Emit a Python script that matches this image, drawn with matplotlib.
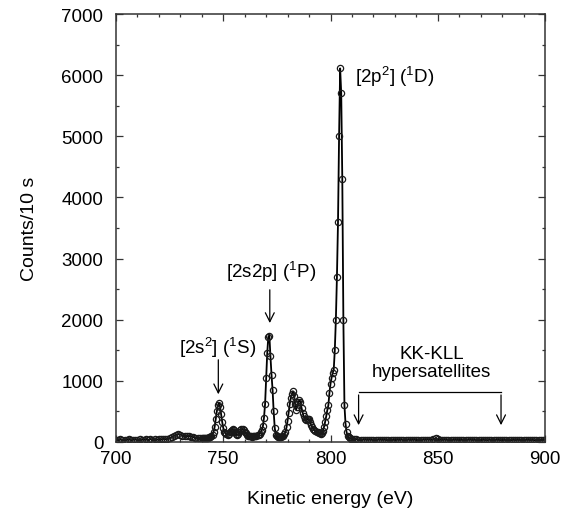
import numpy as np
import matplotlib
matplotlib.use("Agg")
import matplotlib.pyplot as plt
from matplotlib.ticker import MultipleLocator

plt.rcParams['font.family'] = ['Liberation Sans', 'DejaVu Sans']
plt.rcParams['mathtext.fontset'] = 'custom'
plt.rcParams['mathtext.rm'] = 'Liberation Sans'
plt.rcParams['mathtext.it'] = 'Liberation Sans'

# ---- data ----
energy_low = np.arange(700, 740, 1.0)
counts_low = [35, 30, 42, 28, 38, 33, 45, 30, 36, 40,
              32, 44, 38, 35, 41, 30, 46, 39, 42, 37,
              48, 44, 50, 46, 55, 62, 78, 98, 115, 128,
              122, 105, 92, 96, 100, 88, 78, 72, 66, 60]

energy_mid = np.arange(740, 810.5, 0.5)
counts_mid = [58, 62, 60, 64, 66, 70, 72, 78, 85, 98,
              120, 170, 250, 380, 500, 600, 640, 580, 450, 330,
              230, 170, 140, 125, 120, 135, 160, 185, 200, 210,
              195, 165, 135, 120, 130, 160, 190, 210, 215, 200,
              170, 140, 115, 100, 95, 90, 92, 88, 90, 95,
              100, 105, 110, 120, 135, 160, 200, 260, 400, 620,
              1050, 1450, 1720, 1740, 1400, 1100, 850, 500, 230, 120,
              90, 80, 78, 82, 85, 90, 100, 125, 170, 240,
              350, 480, 620, 720, 790, 830, 760, 620, 530, 580,
              650, 680, 650, 560, 480, 420, 380, 360, 370, 380,
              370, 330, 280, 240, 210, 190, 180, 170, 160, 150,
              140, 130, 140, 180, 250, 330, 420, 520, 600, 800,
              950, 1050, 1130, 1180, 1500, 2000, 2700, 3600, 5000, 6110,
              5700, 4300, 2000, 600, 300, 160, 100, 75, 60, 55,
              50]

energy_high = np.arange(811, 901, 1.0)
counts_high = [46, 42, 40, 38, 36, 40, 34, 38, 35, 37,
               33, 36, 39, 34, 38, 32, 36, 40, 35, 33,
               37, 34, 38, 31, 36, 39, 33, 35, 38, 34,
               36, 32, 38, 35, 40, 37, 34, 45, 60, 42,
               36, 33, 38, 35, 32, 37, 34, 36, 33, 38,
               35, 31, 36, 34, 38, 33, 35, 32, 37, 34,
               36, 33, 30, 35, 38, 32, 34, 36, 31, 35,
               33, 37, 34, 30, 36, 32, 35, 33, 37, 31,
               34, 36, 32, 35, 30, 33, 36, 32, 34, 31]

energy = np.concatenate([energy_low, energy_mid, energy_high])
counts = np.concatenate([counts_low, counts_mid, counts_high])

# ---- figure ----
fig = plt.figure(figsize=(5.67, 5.10), dpi=100)
ax = fig.add_axes([116/567, 1-443/510, (545-116)/567, (443-15)/510])

ax.plot(energy, counts, color='black', lw=1.3, marker='o', ms=4.5,
        mfc='none', mec='#1a1a1a', mew=0.9)

ax.set_xlim(700, 900)
ax.set_ylim(0, 7000)
ax.xaxis.set_major_locator(MultipleLocator(50))
ax.xaxis.set_minor_locator(MultipleLocator(10))
ax.yaxis.set_major_locator(MultipleLocator(1000))
ax.yaxis.set_minor_locator(MultipleLocator(500))
ax.tick_params(which='both', direction='in', top=True, right=True, labelsize=13.5,
               color='#333333', width=0.9)
ax.tick_params(which='major', length=5)
ax.tick_params(which='minor', length=2.5)
ax.tick_params(axis='x', which='major', pad=6)
ax.tick_params(axis='y', which='major', pad=9)
for s in ax.spines.values():
    s.set_linewidth(1.1)
    s.set_color('#333333')

ax.set_xlabel('Kinetic energy (eV)', fontsize=14, labelpad=16)
ax.set_ylabel('Counts/10 s', fontsize=14, labelpad=17)

afs = 13.5
arrow = dict(arrowstyle='->', color='black', lw=0.9, mutation_scale=16)

ax.text(747.5, 1555, r'[2s$^{2}$] ($^{1}$S)', ha='center', va='center', fontsize=afs)
ax.annotate('', xy=(747.7, 735), xytext=(747.7, 1390), arrowprops=arrow)

ax.text(772.5, 2800, r'[2s2p] ($^{1}$P)', ha='center', va='center', fontsize=afs)
ax.annotate('', xy=(771.7, 1900), xytext=(771.7, 2535), arrowprops=arrow)

ax.text(811.2, 5990, r'[2p$^{2}$] ($^{1}$D)', ha='left', va='center', fontsize=afs)

ax.text(847, 1440, 'KK-KLL', ha='center', va='center', fontsize=afs)
ax.text(847, 1145, 'hypersatellites', ha='center', va='center', fontsize=afs)
ax.plot([813.1, 879.5], [815, 815], color='black', lw=0.9)
ax.annotate('', xy=(813.1, 230), xytext=(813.1, 815), arrowprops=arrow)
ax.annotate('', xy=(879.5, 230), xytext=(879.5, 815), arrowprops=arrow)

fig.savefig('out.png', dpi=100)
